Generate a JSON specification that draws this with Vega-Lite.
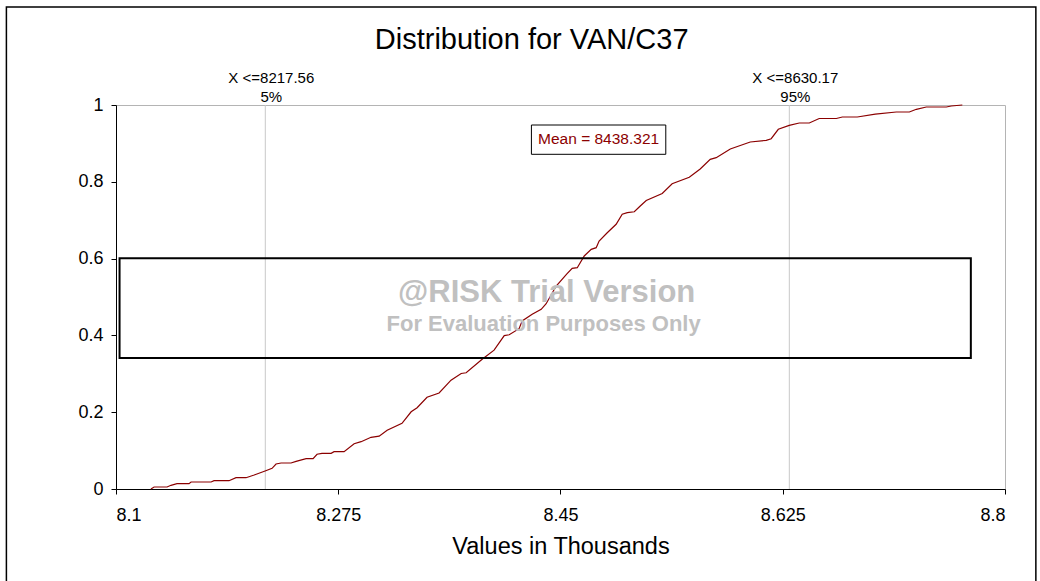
{
  "$schema": "https://vega.github.io/schema/vega-lite/v6.json",
  "width": 889,
  "height": 384,
  "autosize": {"type": "none"},
  "padding": {"left": 116, "top": 105, "right": 35, "bottom": 92},
  "background": "white",
  "config": {
    "font": "Liberation Sans",
    "view": {"stroke": "#b4b4b4", "strokeWidth": 1},
    "axis": {
      "grid": false,
      "domainColor": "black",
      "tickColor": "black",
      "labelColor": "black",
      "titleColor": "black",
      "labelFont": "Liberation Sans",
      "titleFont": "Liberation Sans",
      "labelFontSize": 18,
      "tickSize": 5
    }
  },
  "datasets": {
    "cdf": [
      {"value": 8.1275, "p": 0.0},
      {"value": 8.1300, "p": 0.0052},
      {"value": 8.1402, "p": 0.0052},
      {"value": 8.1433, "p": 0.0096},
      {"value": 8.1480, "p": 0.0138},
      {"value": 8.1575, "p": 0.0138},
      {"value": 8.1591, "p": 0.0182},
      {"value": 8.1749, "p": 0.0182},
      {"value": 8.1772, "p": 0.0216},
      {"value": 8.1890, "p": 0.0216},
      {"value": 8.1945, "p": 0.0294},
      {"value": 8.2024, "p": 0.0294},
      {"value": 8.2088, "p": 0.0365},
      {"value": 8.2174, "p": 0.0469},
      {"value": 8.2229, "p": 0.0539},
      {"value": 8.2260, "p": 0.0651},
      {"value": 8.2300, "p": 0.0677},
      {"value": 8.2378, "p": 0.0677},
      {"value": 8.2418, "p": 0.0721},
      {"value": 8.2497, "p": 0.0789},
      {"value": 8.2552, "p": 0.0789},
      {"value": 8.2583, "p": 0.0904},
      {"value": 8.2622, "p": 0.0930},
      {"value": 8.2694, "p": 0.0930},
      {"value": 8.2717, "p": 0.0971},
      {"value": 8.2796, "p": 0.0971},
      {"value": 8.2875, "p": 0.1180},
      {"value": 8.2930, "p": 0.1232},
      {"value": 8.3008, "p": 0.1346},
      {"value": 8.3072, "p": 0.1375},
      {"value": 8.3135, "p": 0.1529},
      {"value": 8.3252, "p": 0.1711},
      {"value": 8.3324, "p": 0.2010},
      {"value": 8.3371, "p": 0.2117},
      {"value": 8.3449, "p": 0.2388},
      {"value": 8.3544, "p": 0.2500},
      {"value": 8.3638, "p": 0.2833},
      {"value": 8.3718, "p": 0.3008},
      {"value": 8.3757, "p": 0.3026},
      {"value": 8.3883, "p": 0.3378},
      {"value": 8.3977, "p": 0.3615},
      {"value": 8.4057, "p": 0.3995},
      {"value": 8.4096, "p": 0.4016},
      {"value": 8.4174, "p": 0.4174},
      {"value": 8.4198, "p": 0.4375},
      {"value": 8.4277, "p": 0.4549},
      {"value": 8.4348, "p": 0.4680},
      {"value": 8.4387, "p": 0.4826},
      {"value": 8.4466, "p": 0.5286},
      {"value": 8.4552, "p": 0.5607},
      {"value": 8.4592, "p": 0.5747},
      {"value": 8.4632, "p": 0.5763},
      {"value": 8.4687, "p": 0.6068},
      {"value": 8.4742, "p": 0.6242},
      {"value": 8.4781, "p": 0.6284},
      {"value": 8.4804, "p": 0.6458},
      {"value": 8.4868, "p": 0.6674},
      {"value": 8.4938, "p": 0.6893},
      {"value": 8.4986, "p": 0.7154},
      {"value": 8.5026, "p": 0.7195},
      {"value": 8.5081, "p": 0.7219},
      {"value": 8.5128, "p": 0.7370},
      {"value": 8.5175, "p": 0.7513},
      {"value": 8.5301, "p": 0.7695},
      {"value": 8.5379, "p": 0.7948},
      {"value": 8.5514, "p": 0.8117},
      {"value": 8.5600, "p": 0.8333},
      {"value": 8.5679, "p": 0.8586},
      {"value": 8.5726, "p": 0.8628},
      {"value": 8.5837, "p": 0.8854},
      {"value": 8.5994, "p": 0.9036},
      {"value": 8.6120, "p": 0.9081},
      {"value": 8.6159, "p": 0.9122},
      {"value": 8.6215, "p": 0.9367},
      {"value": 8.6301, "p": 0.9471},
      {"value": 8.6380, "p": 0.9531},
      {"value": 8.6459, "p": 0.9531},
      {"value": 8.6537, "p": 0.9648},
      {"value": 8.6672, "p": 0.9648},
      {"value": 8.6719, "p": 0.9688},
      {"value": 8.6837, "p": 0.9688},
      {"value": 8.6979, "p": 0.9760},
      {"value": 8.7144, "p": 0.9818},
      {"value": 8.7247, "p": 0.9818},
      {"value": 8.7302, "p": 0.9888},
      {"value": 8.7380, "p": 0.9948},
      {"value": 8.7538, "p": 0.9948},
      {"value": 8.7577, "p": 0.9974},
      {"value": 8.7664, "p": 1.0}
    ],
    "pct": [
      {"value": 8.21756, "label": "X <=8217.56", "pctLabel": "5%"},
      {"value": 8.63017, "label": "X <=8630.17", "pctLabel": "95%"}
    ],
    "mean": [
      {"mean": 8.438321, "label": "Mean = 8438.321"}
    ],
    "one": [{}]
  },
  "layer": [
    {
      "data": {"name": "one"},
      "mark": {"type": "rect", "fill": null, "stroke": "black", "strokeWidth": 1.5},
      "encoding": {
        "x": {"datum": 8.0137, "type": "quantitative"},
        "x2": {"datum": 8.8243},
        "y": {"datum": 1.2552, "type": "quantitative"},
        "y2": {"datum": -0.3}
      }
    },
    {
      "data": {"name": "one"},
      "mark": {"type": "text", "fontSize": 29, "font": "Liberation Sans", "color": "black", "baseline": "middle", "align": "center"},
      "encoding": {
        "x": {"datum": 8.4273, "type": "quantitative"},
        "y": {"datum": 1.1693, "type": "quantitative"},
        "text": {"value": "Distribution for VAN/C37"}
      }
    },
    {
      "data": {"name": "pct"},
      "mark": {"type": "rule", "color": "#c8c8c8", "strokeWidth": 1},
      "encoding": {
        "x": {"field": "value", "type": "quantitative"}
      }
    },
    {
      "data": {"name": "cdf"},
      "mark": {"type": "line", "color": "#8b0000", "strokeWidth": 1.2, "interpolate": "linear"},
      "encoding": {
        "x": {
          "field": "value",
          "type": "quantitative",
          "scale": {"domain": [8.1, 8.8], "nice": false, "zero": false},
          "axis": {
            "values": [8.1, 8.275, 8.45, 8.625, 8.8],
            "labelExpr": "'' + datum.value",
            "labelPadding": 12,
            "title": "Values in Thousands",
            "titleFontSize": 23.5,
            "titleFontWeight": "normal",
            "titlePadding": 10
          }
        },
        "y": {
          "field": "p",
          "type": "quantitative",
          "scale": {"domain": [0, 1], "nice": false},
          "axis": {
            "values": [0, 0.2, 0.4, 0.6, 0.8, 1],
            "labelExpr": "'' + datum.value",
            "labelPadding": 8,
            "title": null
          }
        }
      }
    },
    {
      "data": {"name": "one"},
      "mark": {"type": "rect", "fill": null, "stroke": "black", "strokeWidth": 2},
      "encoding": {
        "x": {"datum": 8.1028, "type": "quantitative"},
        "x2": {"datum": 8.7731},
        "y": {"datum": 0.601, "type": "quantitative"},
        "y2": {"datum": 0.341}
      }
    },
    {
      "data": {"name": "one"},
      "mark": {"type": "text", "fontSize": 31, "fontWeight": "bold", "color": "#c0c0c0", "baseline": "middle", "align": "center"},
      "encoding": {
        "x": {"datum": 8.4391, "type": "quantitative"},
        "y": {"datum": 0.51, "type": "quantitative"},
        "text": {"value": "@RISK Trial Version"}
      }
    },
    {
      "data": {"name": "one"},
      "mark": {"type": "text", "fontSize": 22, "fontWeight": "bold", "color": "#c0c0c0", "baseline": "middle", "align": "center"},
      "encoding": {
        "x": {"datum": 8.4367, "type": "quantitative"},
        "y": {"datum": 0.429, "type": "quantitative"},
        "text": {"value": "For Evaluation Purposes Only"}
      }
    },
    {
      "data": {"name": "pct"},
      "mark": {"type": "text", "fontSize": 15, "color": "black", "baseline": "middle", "align": "center", "dx": 6},
      "encoding": {
        "x": {"field": "value", "type": "quantitative"},
        "y": {"datum": 1.0703, "type": "quantitative"},
        "text": {"field": "label"}
      }
    },
    {
      "data": {"name": "pct"},
      "mark": {"type": "text", "fontSize": 15, "color": "black", "baseline": "middle", "align": "center", "dx": 6},
      "encoding": {
        "x": {"field": "value", "type": "quantitative"},
        "y": {"datum": 1.0208, "type": "quantitative"},
        "text": {"field": "pctLabel"}
      }
    },
    {
      "data": {"name": "one"},
      "mark": {"type": "rect", "fill": "white", "stroke": "black", "strokeWidth": 1},
      "encoding": {
        "x": {"datum": 8.4271, "type": "quantitative"},
        "x2": {"datum": 8.5329},
        "y": {"datum": 0.9479, "type": "quantitative"},
        "y2": {"datum": 0.8716}
      }
    },
    {
      "data": {"name": "mean"},
      "mark": {"type": "text", "fontSize": 15.5, "color": "#8b0000", "baseline": "middle", "align": "center"},
      "encoding": {
        "x": {"datum": 8.48, "type": "quantitative"},
        "y": {"datum": 0.9102, "type": "quantitative"},
        "text": {"field": "label"}
      }
    }
  ]
}
